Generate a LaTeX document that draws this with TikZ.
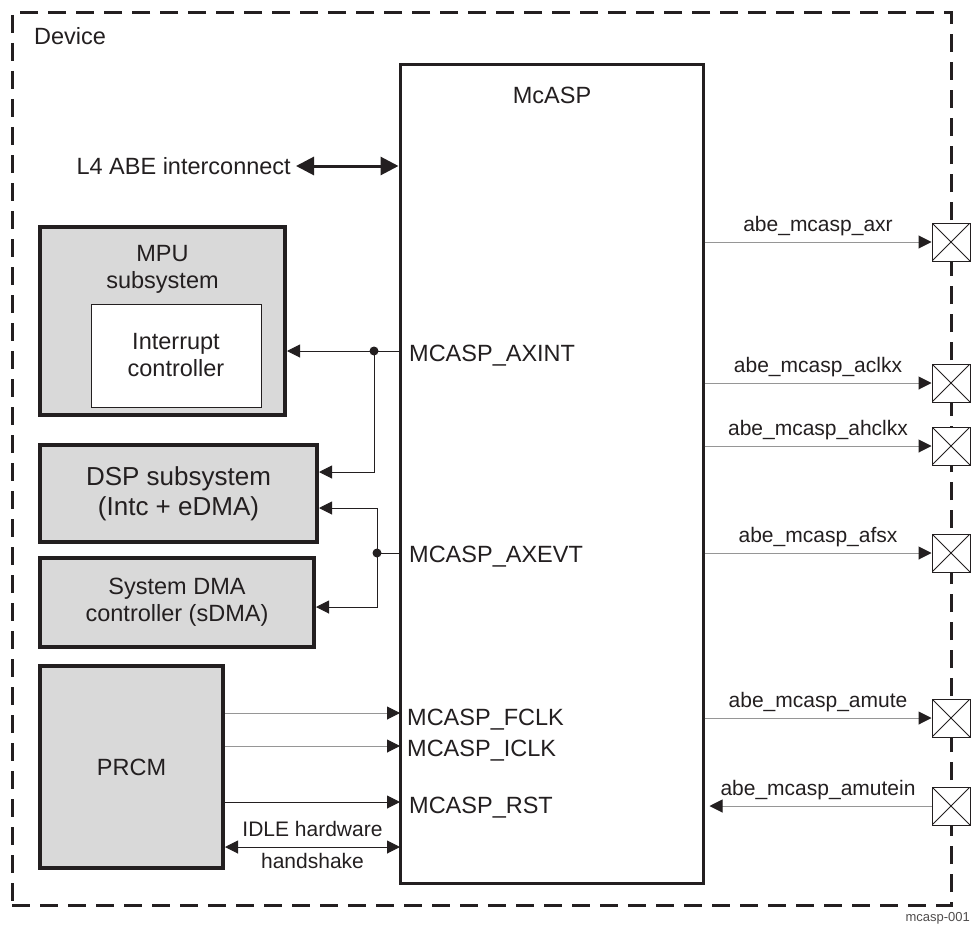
\documentclass[tikz,border=0pt]{standalone}
\usepackage{fontspec}
\setmainfont{Liberation Sans}
\usetikzlibrary{arrows.meta}
\definecolor{inkgray}{RGB}{35,31,32}
\definecolor{boxgray}{RGB}{217,217,217}
\definecolor{wiregray}{RGB}{150,150,150}
\newcommand{\lblfont}{\fontsize{23.5}{27}\selectfont}
\newcommand{\sigfont}{\fontsize{21}{25}\selectfont}
\tikzset{
  devbox/.style  = {draw=inkgray, line width=3pt, dash pattern=on 18pt off 10pt,
                    inner sep=0pt},
  ipbox/.style   = {draw=inkgray, line width=3pt, fill=white, inner sep=0pt},
  subbox/.style  = {draw=inkgray, line width=4pt, fill=boxgray, inner sep=0pt,
                    align=center, text=inkgray, font=\lblfont},
  innerbox/.style= {draw=inkgray, line width=1pt, fill=white, inner sep=0pt},
  lbl/.style     = {inner sep=0pt, text=inkgray, font=\lblfont, align=center},
  siglbl/.style  = {inner sep=0pt, text=inkgray, font=\sigfont},
  pad/.style     = {draw=inkgray, line width=1pt, fill=white, minimum size=38pt,
                    inner sep=0pt,
                    path picture={\draw[inkgray, line width=0.8pt]
                      (path picture bounding box.south west) -- (path picture bounding box.north east)
                      (path picture bounding box.north west) -- (path picture bounding box.south east);}},
  wire/.style    = {line width=1pt, wiregray, -{Triangle[length=13pt, width=13pt, color=inkgray]}},
  link/.style    = {line width=1pt, inkgray, -{Triangle[length=13pt, width=13pt]}},
  handshake/.style = {line width=1pt, inkgray,
                    {Triangle[length=13pt, width=13pt]}-{Triangle[length=13pt, width=13pt]}},
  bus/.style     = {line width=3pt, inkgray,
                    {Triangle[length=18pt, width=18pt]}-{Triangle[length=18pt, width=18pt]}},
  joint/.style   = {circle, fill=inkgray, inner sep=0pt, minimum size=9pt},
}

\begin{document}
\begin{tikzpicture}[x=1pt, y=-1pt]
    \useasboundingbox (0,0) rectangle (971,931);
    % device boundary and the McASP block
    \node[devbox, minimum width=939pt, minimum height=892pt] (dev) at (481.5,459) {};
    \node[lbl, anchor=base west] (devlbl) at (34,45) {Device};
    \node[ipbox, minimum width=303pt, minimum height=818pt] (mcasp) at (551.5,474) {};
    \node[lbl, anchor=base] (mcasplbl) at (552,103) {McASP};

    % subsystems on the left
    \node[subbox, minimum width=245pt, minimum height=188pt] (mpu) at (162.5,321) {};
    \node[lbl] (mpulbl) at (162.5,269) {MPU\\subsystem};
    \node[innerbox, minimum width=170pt, minimum height=103pt] (intc) at (176,355.5) {};
    \node[lbl] (intclbl) at (176,355) {Interrupt\\controller};
    \node[subbox, minimum width=277pt, minimum height=97pt,
          font=\fontsize{26}{30}\selectfont] (dsp) at (178.5,493.5)
          {DSP subsystem\\(Intc + eDMA)};
    \node[subbox, minimum width=274pt, minimum height=89pt] (sdma) at (177,602.5)
          {System DMA\\controller (sDMA)};
    \node[subbox, minimum width=183pt, minimum height=202pt] (prcm) at (131.5,767) {PRCM};

    % interconnect
    \node[lbl, anchor=east] (l4) at (291,166) {L4 ABE interconnect};
    \draw[bus, shorten <=5pt] (l4.east) -- (mcasp.west |- l4.east);

    % interrupt and DMA events
    \node[lbl, anchor=base west] (axint) at (409,361) {MCASP\_AXINT};
    \node[lbl, anchor=base west] (axevt) at (409,562) {MCASP\_AXEVT};
    \node[joint] (intdot) at (374,351) {};
    \node[joint] (evtdot) at (377,553) {};
    \draw[link] (mcasp.west |- intdot) -- (mpu.east |- intdot);
    \draw[link] (intdot.center) |- ([yshift=21.5pt]dsp.east);
    \draw[line width=1pt, inkgray] (mcasp.west |- evtdot) -- (evtdot.center);
    \draw[link] (evtdot.center) |- ([yshift=-14.5pt]dsp.east);
    \draw[link] (evtdot.center) |- ([yshift=-4.5pt]sdma.east);

    % clocks, reset and idle handshake
    \coordinate (pfclk) at (400,713);
    \coordinate (piclk) at (400,746);
    \coordinate (prst)  at (400,802);
    \coordinate (pidle) at (400,847);
    \node[lbl, anchor=base west] (fclk) at (407,725) {MCASP\_FCLK};
    \node[lbl, anchor=base west] (iclk) at (407,756) {MCASP\_ICLK};
    \node[lbl, anchor=base west] (rst)  at (409,813) {MCASP\_RST};
    \draw[wire] (prcm.east |- pfclk) -- (pfclk);
    \draw[wire] (prcm.east |- piclk) -- (piclk);
    \draw[link] (prcm.east |- prst) -- (prst);
    \draw[handshake] (prcm.east |- pidle) -- (pidle)
      node[siglbl, midway, above=10pt] {IDLE hardware}
      node[siglbl, midway, below=6pt] {handshake};

    % pads on the device boundary
    \node[pad] (axr)     at (951,242) {};
    \node[pad] (aclkx)   at (951,383) {};
    \node[pad] (ahclkx)  at (951,446) {};
    \node[pad] (afsx)    at (951,553) {};
    \node[pad] (amute)   at (951,718) {};
    \node[pad] (amutein) at (951,806) {};
    \draw[wire] (mcasp.east |- axr) -- (axr.west)
      node[siglbl, midway, above=5.5pt] {abe\_mcasp\_axr};
    \draw[wire] (mcasp.east |- aclkx) -- (aclkx.west)
      node[siglbl, midway, above=5.5pt] {abe\_mcasp\_aclkx};
    \draw[wire] (mcasp.east |- ahclkx) -- (ahclkx.west)
      node[siglbl, midway, above=5.5pt] {abe\_mcasp\_ahclkx};
    \draw[wire] (mcasp.east |- afsx) -- (afsx.west)
      node[siglbl, midway, above=5.5pt] {abe\_mcasp\_afsx};
    \draw[wire] (mcasp.east |- amute) -- (amute.west)
      node[siglbl, midway, above=5.5pt] {abe\_mcasp\_amute};
    \draw[wire, shorten >=5pt] (amutein.west) -- (mcasp.east |- amutein)
      node[siglbl, midway, above=5.5pt] {abe\_mcasp\_amutein};

    \node[inner sep=0pt, text=inkgray!80, font=\fontsize{13}{15}\selectfont,
          anchor=base east] (figid) at (970,921) {mcasp-001};
  \end{tikzpicture}
\end{document}
